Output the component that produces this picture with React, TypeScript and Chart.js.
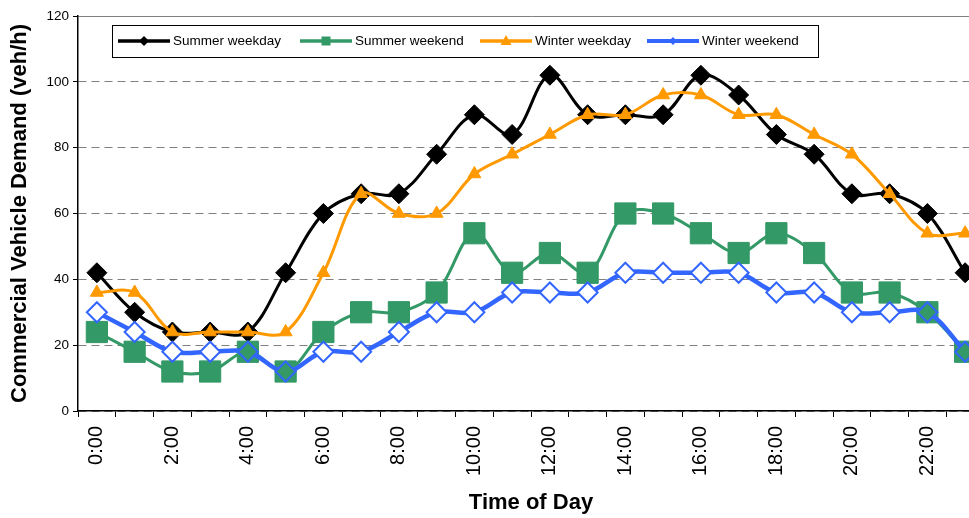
import React, { useEffect, useRef } from 'react';
import { Chart, registerables } from 'chart.js';

Chart.register(...registerables);

const hours = ['0:00', '1:00', '2:00', '3:00', '4:00', '5:00', '6:00', '7:00', '8:00', '9:00', '10:00', '11:00',
  '12:00', '13:00', '14:00', '15:00', '16:00', '17:00', '18:00', '19:00', '20:00', '21:00', '22:00', '23:00'];

const summerWeekday = [42, 30, 24, 24, 24, 42, 60, 66, 66, 78, 90, 84, 102, 90, 90, 90, 102, 96, 84, 78, 66, 66, 60, 42];
const summerWeekend = [24, 18, 12, 12, 18, 12, 24, 30, 30, 36, 54, 42, 48, 42, 60, 60, 54, 48, 54, 48, 36, 36, 30, 18];
const winterWeekday = [36, 36, 24, 24, 24, 24, 42, 66, 60, 60, 72, 78, 84, 90, 90, 96, 96, 90, 90, 84, 78, 66, 54, 54];
const winterWeekend = [30, 24, 18, 18, 18, 12, 18, 18, 24, 30, 30, 36, 36, 36, 42, 42, 42, 42, 36, 36, 30, 30, 30, 18];

const seriesNames = ['Summer weekday', 'Summer weekend', 'Winter weekday', 'Winter weekend'];
const yTicks = [0, 20, 40, 60, 80, 100, 120];

const BLACK = '#000000';
const GREEN = '#339966';
const ORANGE = '#FF9900';
const BLUE = '#3366FF';
const FONT = '"Liberation Sans", Arial, sans-serif';

const legendPlugin = {
  id: 'boxLegend',
  afterDraw(chart: any) {
    const ctx: CanvasRenderingContext2D = chart.ctx;
    ctx.save();
    ctx.fillStyle = '#fff';
    ctx.fillRect(112.5, 25.5, 706, 32);
    ctx.strokeStyle = '#000';
    ctx.lineWidth = 1;
    ctx.strokeRect(112.5, 25.5, 706, 32);
    const starts = [118, 300, 480, 647];
    const colors = [BLACK, GREEN, ORANGE, BLUE];
    const widths = [3.5, 3.5, 3.5, 4];
    const cy = 41;
    ctx.font = `13.5px ${FONT}`;
    ctx.textBaseline = 'middle';
    seriesNames.forEach((name, i) => {
      const x0 = starts[i];
      const x1 = x0 + 52;
      ctx.strokeStyle = colors[i];
      ctx.lineWidth = widths[i];
      ctx.beginPath();
      ctx.moveTo(x0, cy);
      ctx.lineTo(x1, cy);
      ctx.stroke();
      const mx = (x0 + x1) / 2;
      ctx.fillStyle = colors[i];
      ctx.beginPath();
      if (i === 0) {
        ctx.moveTo(mx, cy - 5); ctx.lineTo(mx + 5, cy); ctx.lineTo(mx, cy + 5); ctx.lineTo(mx - 5, cy); ctx.closePath();
      } else if (i === 1) {
        ctx.rect(mx - 4.5, cy - 4.5, 9, 9);
      } else if (i === 2) {
        ctx.moveTo(mx, cy - 6); ctx.lineTo(mx + 5.5, cy + 4); ctx.lineTo(mx - 5.5, cy + 4); ctx.closePath();
      } else {
        ctx.moveTo(mx, cy - 4); ctx.lineTo(mx + 4, cy); ctx.lineTo(mx, cy + 4); ctx.lineTo(mx - 4, cy); ctx.closePath();
      }
      ctx.fill();
      ctx.fillStyle = '#000';
      ctx.fillText(name, x1 + 3, cy + 0.5);
    });
    ctx.restore();
  },
};

export default function App() {
  const ref = useRef<HTMLCanvasElement>(null);
  useEffect(() => {
    if (!ref.current) return;
    Chart.defaults.color = '#000';
    Chart.defaults.font.family = FONT;
    const chart = new Chart(ref.current, {
      type: 'line',
      data: {
        labels: hours,
        datasets: [
          {
            label: seriesNames[0], data: summerWeekday, borderColor: BLACK, backgroundColor: BLACK,
            borderWidth: 3, tension: 0.35, pointStyle: 'rectRot', pointRadius: 10, pointBorderWidth: 1,
            pointBackgroundColor: BLACK, pointBorderColor: BLACK, order: 4,
          },
          {
            label: seriesNames[1], data: summerWeekend, borderColor: GREEN, backgroundColor: GREEN,
            borderWidth: 3, tension: 0.35, pointStyle: 'rect', pointRadius: 15, pointBorderWidth: 1,
            pointBackgroundColor: GREEN, pointBorderColor: GREEN, order: 3,
          },
          {
            label: seriesNames[2], data: winterWeekday, borderColor: ORANGE, backgroundColor: ORANGE,
            borderWidth: 3, tension: 0.35, pointStyle: 'triangle', pointRadius: 7.5, pointBorderWidth: 1,
            pointBackgroundColor: ORANGE, pointBorderColor: ORANGE, order: 2,
          },
          {
            label: seriesNames[3], data: winterWeekend, borderColor: BLUE, backgroundColor: BLUE,
            borderWidth: 4.5, tension: 0.35, pointStyle: 'rectRot', pointRadius: 10, pointBorderWidth: 2,
            pointBackgroundColor: (c: any) => (summerWeekend[c.dataIndex] === winterWeekend[c.dataIndex] ? GREEN : '#ffffff'),
            pointBorderColor: BLUE, order: 1,
          },
        ],
      },
      options: {
        responsive: false,
        animation: false,
        layout: { padding: { top: 14, right: 2, left: 0, bottom: 0 } },
        plugins: { legend: { display: false }, tooltip: { enabled: false } },
        scales: {
          x: {
            type: 'category',
            offset: true,
            grid: { offset: true, drawOnChartArea: false, drawTicks: true, tickLength: 6, tickColor: '#000', tickWidth: 1 },
            border: { display: true, color: '#000', width: 1.5 },
            ticks: {
              autoSkip: false, minRotation: 90, maxRotation: 90, padding: 9,
              font: { size: 20, family: FONT },
              callback: (_v: any, i: number) => (i % 2 === 0 ? hours[i] : ''),
            },
            title: { display: true, text: 'Time of Day', font: { size: 22, weight: 'bold', family: FONT }, padding: { top: 0, bottom: 2 } },
            afterFit: (s: any) => { s.height = 107; },
          },
          y: {
            min: 0, max: 120,
            afterBuildTicks: (s: any) => { s.ticks = yTicks.map((v) => ({ value: v })); },
            grid: {
              color: '#808080', lineWidth: 1, drawTicks: true, tickLength: 5, tickColor: '#000', tickWidth: 1,
            },
            border: {
              display: true, color: '#000', width: 1.5,
              dash: (c: any) => (c.tick && c.tick.value === 120 ? [] : [8, 5]),
            },
            ticks: { padding: 4, font: { size: 13.5, family: FONT } },
            title: { display: true, text: 'Commercial Vehicle Demand (veh/h)', font: { size: 22, weight: 'bold', family: FONT }, padding: { top: 7, bottom: 0 } },
            afterFit: (s: any) => { s.width = 78; },
          },
        },
      },
      plugins: [legendPlugin],
    } as any);
    return () => chart.destroy();
  }, []);
  return (
    <div style={{ position: 'absolute', left: 0, top: 0, width: 969, height: 518, overflow: 'hidden', background: '#fff' }}>
      <canvas ref={ref} width={1000} height={518} style={{ display: 'block' }} />
    </div>
  );
}
